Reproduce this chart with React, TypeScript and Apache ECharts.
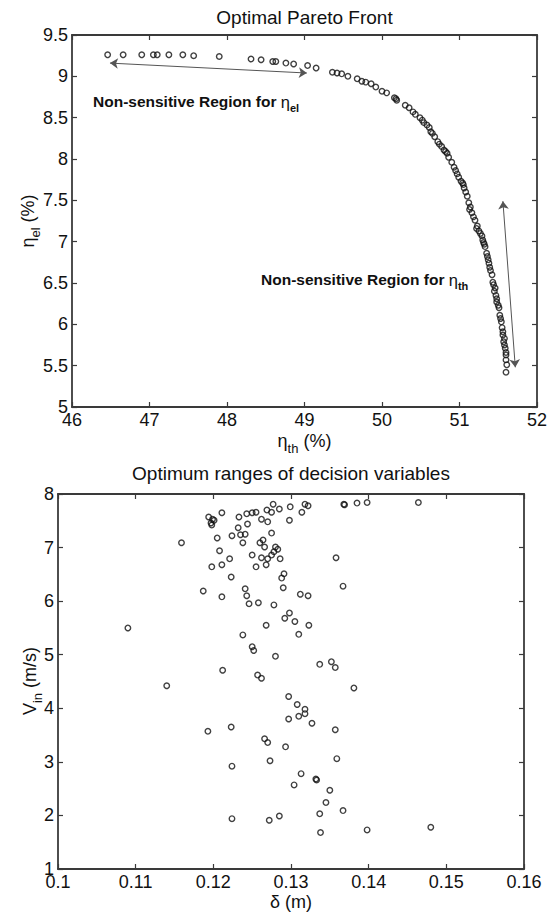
import React, { useEffect, useRef } from "react";
import * as echarts from "echarts";

// ---- Optimal Pareto Front (eta_th %, eta_el %) ----
const etaTh = [
  46.46, 46.66, 46.9, 47.05, 47.1, 47.25, 47.43, 47.57, 47.9, 48.31, 48.44, 48.59, 48.63, 48.76, 48.86,
  49.04, 49.15, 49.36, 49.42, 49.48, 49.56, 49.68, 49.74, 49.79, 49.86, 49.92, 50.0, 50.06, 50.16, 50.18,
  50.19, 50.3, 50.35, 50.4, 50.43, 50.52, 50.54, 50.58, 50.61, 50.65, 50.68, 50.74, 50.77, 50.8, 50.84,
  50.86, 50.9, 50.93, 50.97, 50.99, 51.02, 51.05, 51.06, 51.08, 51.1, 51.12, 51.14, 51.16, 51.18, 51.2,
  51.23, 51.25, 51.27, 51.29, 51.3, 51.32, 51.33, 51.35, 51.36, 51.37, 51.39, 51.4, 51.42, 51.43, 51.44,
  51.46, 51.47, 51.48, 51.48, 51.51, 51.52, 51.53, 51.54, 51.55, 51.56, 51.56, 51.57, 51.58, 51.59, 51.6,
  51.6, 51.6, 51.61, 51.6,
  50.49, 50.63, 50.72, 50.82, 50.95, 51.04, 51.13, 51.22, 51.31, 51.38, 51.45, 51.5, 51.58,
];
const etaEl = [
  9.26, 9.26, 9.26, 9.26, 9.26, 9.26, 9.26, 9.25, 9.24, 9.21, 9.2, 9.18, 9.18, 9.16, 9.15,
  9.13, 9.1, 9.05, 9.04, 9.03, 9.0, 8.97, 8.94, 8.93, 8.91, 8.87, 8.82, 8.8, 8.74, 8.73,
  8.71, 8.65, 8.62, 8.57, 8.54, 8.47, 8.44, 8.41, 8.38, 8.31, 8.27, 8.18, 8.15, 8.11, 8.07,
  8.02, 7.96, 7.9, 7.82, 7.78, 7.73, 7.69, 7.65, 7.6, 7.55, 7.47, 7.42, 7.35, 7.3, 7.26,
  7.19, 7.13, 7.1, 7.07, 7.02, 6.97, 6.94, 6.86, 6.82, 6.78, 6.69, 6.65, 6.6, 6.51, 6.48,
  6.44, 6.35, 6.31, 6.27, 6.2, 6.11, 6.07, 6.03, 5.96, 5.91, 5.87, 5.79, 5.75, 5.71, 5.66,
  5.63, 5.57, 5.51, 5.42,
  8.5, 8.33, 8.21, 8.09, 7.86, 7.71, 7.39, 7.16, 6.99, 6.74, 6.4, 6.23, 5.83,
];
// double-headed arrows [x1, y1, x2, y2]
const arrowElRegion = [46.49, 9.16, 49.03, 9.04];
const arrowThRegion = [51.56, 7.49, 51.72, 5.48];

// ---- Optimum ranges of decision variables (delta m, V_in m/s) ----
const delta = [
  0.1159, 0.1194, 0.1199, 0.1201, 0.1197, 0.1198, 0.1211, 0.1205, 0.1208, 0.1198, 0.1211, 0.1221, 0.1223,
  0.1187, 0.1211, 0.1233, 0.1243, 0.125, 0.1255, 0.1244, 0.1232, 0.1224, 0.1235, 0.1241, 0.1238, 0.125,
  0.1255, 0.1241, 0.1243, 0.1269, 0.1275, 0.1277, 0.1285, 0.1262, 0.127, 0.1275, 0.126, 0.1264, 0.1266,
  0.1262, 0.128, 0.1283, 0.1278, 0.1275, 0.127, 0.1268, 0.1286, 0.1288, 0.1291, 0.129, 0.1299, 0.1298,
  0.1314, 0.1318, 0.1322, 0.1312, 0.1322, 0.1358, 0.1367, 0.1368, 0.1369, 0.1385, 0.1398, 0.1464,
  0.109, 0.114, 0.1193, 0.1223, 0.1212, 0.1238, 0.125, 0.1252, 0.1257, 0.1262, 0.1246, 0.1258, 0.1268,
  0.1278, 0.128, 0.1298, 0.1292, 0.1305, 0.131, 0.1323, 0.1337, 0.1352, 0.1357, 0.1381, 0.1297, 0.1308,
  0.1318, 0.1318, 0.1297, 0.131, 0.1327, 0.1357, 0.1266,
  0.127, 0.1293, 0.1224, 0.1273, 0.1359, 0.1313, 0.1332, 0.1333, 0.1304, 0.135, 0.1345, 0.1367, 0.1337,
  0.1224, 0.1272, 0.1285, 0.1338, 0.1398, 0.148,
];
const vin = [
  7.09, 7.57, 7.53, 7.51, 7.46, 7.42, 7.65, 7.18, 6.94, 6.64, 6.68, 6.79, 6.45,
  6.19, 6.08, 7.57, 7.63, 7.65, 7.66, 7.44, 7.37, 7.22, 7.24, 7.25, 7.09, 6.86,
  6.64, 6.23, 6.1, 7.7, 7.66, 7.81, 7.72, 7.53, 7.48, 7.27, 7.09, 7.14, 7.01,
  6.81, 7.01, 6.97, 6.92, 6.86, 6.79, 6.68, 6.79, 6.43, 6.51, 6.25, 7.76, 7.51,
  7.66, 7.81, 7.78, 6.13, 6.1, 6.81, 6.28, 7.81, 7.8, 7.83, 7.84, 7.84,
  5.5, 4.42, 3.57, 3.65, 4.71, 5.37, 5.15, 5.08, 4.62, 4.56, 5.95, 5.97, 5.55,
  5.93, 4.97, 5.78, 5.68, 5.62, 5.38, 5.55, 4.82, 4.87, 4.76, 4.38, 4.22, 4.07,
  3.98, 3.9, 3.8, 3.85, 3.72, 3.6, 3.43,
  3.36, 3.28, 2.92, 3.02, 3.06, 2.78, 2.68, 2.66, 2.57, 2.47, 2.24, 2.09, 2.03,
  1.94, 1.91, 1.99, 1.68, 1.73, 1.78,
];

const FONT = "'Liberation Sans', Arial, Helvetica, sans-serif";
const INK = "#111";
const AXIS = "#3a3a3a";

function subLabel(main: string, sub: string, tail: string, size: number) {
  const s = Math.round(size * 0.72);
  return {
    text: `{m|${main}}{s|${sub}}{m|${tail}}`,
    rich: {
      m: { fontSize: size, lineHeight: size + 2, verticalAlign: "top", fontFamily: FONT, fill: INK },
      s: {
        fontSize: s,
        lineHeight: s,
        padding: [Math.round(size * 0.55), 0, 0, 0],
        verticalAlign: "top",
        fontFamily: FONT,
        fill: INK,
      },
    },
  };
}

function noteLabel(main: string, sub: string, size: number) {
  const s = Math.round(size * 0.72);
  return {
    text: `{b|${main}}{g|η}{s|${sub}}`,
    rich: {
      b: { fontSize: size, lineHeight: size + 2, verticalAlign: "top", fontFamily: FONT, fontWeight: "bold", fill: INK },
      g: { fontSize: size + 1, lineHeight: size + 2, verticalAlign: "top", fontFamily: FONT, fill: INK },
      s: {
        fontSize: s,
        lineHeight: s,
        padding: [Math.round(size * 0.6), 0, 0, 0],
        verticalAlign: "top",
        fontFamily: FONT,
        fontWeight: "bold",
        fill: INK,
      },
    },
  };
}

function axis(extra: any, labels: boolean) {
  return {
    type: "value",
    splitLine: { show: false },
    axisLine: { show: true, onZero: false, lineStyle: { color: AXIS, width: 1.8 } },
    axisTick: { show: true, inside: true, length: 5, lineStyle: { color: AXIS, width: 1.2 } },
    axisLabel: labels
      ? { show: true, color: INK, fontSize: 18, fontFamily: FONT, margin: 4, showMinLabel: true, showMaxLabel: true }
      : { show: false },
    ...extra,
  };
}

const markerStyle = { color: "rgba(0,0,0,0)", borderColor: INK, borderWidth: 1.4 };

export default function App() {
  const ref = useRef<HTMLDivElement>(null);
  useEffect(() => {
    document.body.style.margin = "0";
    const chart = echarts.init(ref.current!, undefined, { renderer: "svg" });
    const topX = { min: 46, max: 52, interval: 1 };
    const topY = { min: 5, max: 9.5, interval: 0.5 };
    const botX = { min: 0.1, max: 0.16, interval: 0.01 };
    const botY = { min: 1, max: 8, interval: 1 };
    chart.setOption({
      animation: false,
      backgroundColor: "#fff",
      grid: [
        { left: 72, top: 35, width: 465, height: 372 },
        { left: 58, top: 494, width: 466, height: 375 },
      ],
      xAxis: [
        axis({ gridIndex: 0, position: "bottom", ...topX }, true),
        axis({ gridIndex: 0, position: "top", ...topX }, false),
        axis({ gridIndex: 1, position: "bottom", ...botX }, true),
        axis({ gridIndex: 1, position: "top", ...botX }, false),
      ],
      yAxis: [
        axis({ gridIndex: 0, position: "left", ...topY }, true),
        axis({ gridIndex: 0, position: "right", ...topY }, false),
        axis({ gridIndex: 1, position: "left", ...botY }, true),
        axis({ gridIndex: 1, position: "right", ...botY }, false),
      ],
      series: [
        {
          type: "scatter",
          xAxisIndex: 0,
          yAxisIndex: 0,
          symbol: "circle",
          symbolSize: 5.5,
          itemStyle: markerStyle,
          emphasis: { disabled: true },
          data: etaTh.map((x, i) => [x, etaEl[i]]),
          markLine: {
            silent: true,
            symbol: ["arrow", "arrow"],
            symbolSize: 8,
            label: { show: false },
            lineStyle: { color: "#555", width: 1, type: "solid" },
            emphasis: { disabled: true },
            data: [arrowElRegion, arrowThRegion].map((a) => [
              { coord: [a[0], a[1]] },
              { coord: [a[2], a[3]] },
            ]),
          },
        },
        {
          type: "scatter",
          xAxisIndex: 2,
          yAxisIndex: 2,
          symbol: "circle",
          symbolSize: 5.5,
          itemStyle: markerStyle,
          emphasis: { disabled: true },
          data: delta.map((x, i) => [x, vin[i]]),
        },
      ],
      graphic: [
        {
          type: "text",
          x: 304.5,
          y: 17,
          style: { text: "Optimal Pareto Front", fontSize: 19, fontFamily: FONT, fill: INK, align: "center", verticalAlign: "middle" },
        },
        {
          type: "text",
          x: 304.5,
          y: 432,
          style: { ...subLabel("η", "th", " (%)", 18), align: "center", verticalAlign: "top" },
        },
        {
          type: "text",
          x: 19,
          y: 221,
          rotation: Math.PI / 2,
          style: { ...subLabel("η", "el", " (%)", 18), align: "center", verticalAlign: "top" },
        },
        {
          type: "text",
          x: 93,
          y: 93,
          style: { ...noteLabel("Non-sensitive Region for ", "el", 15.5), align: "left", verticalAlign: "top" },
        },
        {
          type: "text",
          x: 261,
          y: 271,
          style: { ...noteLabel("Non-sensitive Region for ", "th", 15.5), align: "left", verticalAlign: "top" },
        },
        {
          type: "text",
          x: 291,
          y: 473,
          style: {
            text: "Optimum ranges of decision variables",
            fontSize: 19,
            fontFamily: FONT,
            fill: INK,
            align: "center",
            verticalAlign: "middle",
          },
        },
        {
          type: "text",
          x: 291,
          y: 902,
          style: { text: "δ (m)", fontSize: 18, fontFamily: FONT, fill: INK, align: "center", verticalAlign: "middle" },
        },
        {
          type: "text",
          x: 21,
          y: 681,
          rotation: Math.PI / 2,
          style: { ...subLabel("V", "in", " (m/s)", 18), align: "center", verticalAlign: "top" },
        },
      ],
    });
    return () => chart.dispose();
  }, []);
  return <div ref={ref} style={{ width: 557, height: 913 }} />;
}
